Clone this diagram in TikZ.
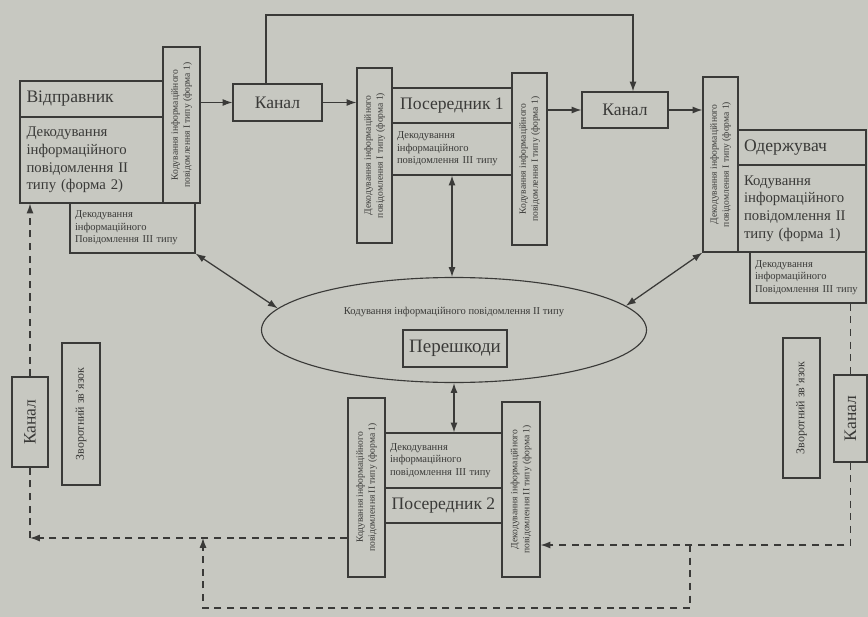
\documentclass[tikz,border=0pt]{standalone}
\usepackage{fontspec}
\setmainfont{Liberation Serif}
\usetikzlibrary{shapes.geometric, arrows.meta}
\newcommand{\upx}{0.025cm}
\definecolor{paper}{RGB}{199,200,193}
\definecolor{ink}{RGB}{58,58,56}
\tikzset{
    blk/.style={draw=ink, line width=0.8pt, inner sep=2pt, text=ink},
    sz/.style 2 args={minimum width=#1*\upx, minimum height=#2*\upx},
    tw/.style={text width=#1*\upx},
    ttl/.style={blk, font=\fontsize{12.5}{14}\selectfont},
    bodytxt/.style={blk, align=left, font=\fontsize{10.5}{12.5}\selectfont},
    smalltxt/.style={blk, align=left, font=\fontsize{7.5}{9}\selectfont},
    strip/.style={blk, rotate=90, align=center, font=\fontsize{6.8}{8.5}\selectfont},
    side/.style={blk, rotate=90},
    link/.style={draw=ink, line width=0.9pt, ->},
    dlink/.style={draw=ink, line width=0.9pt, <->},
    fbline/.style={draw=ink, line width=0.9pt, dash pattern=on 5pt off 4pt},
    fb/.style={fbline, ->}
}

\begin{document}
\begin{tikzpicture}[x=\upx, y=-\upx, >={Latex[length=7pt,width=5pt]}]
    \useasboundingbox[fill=paper] (0,0) rectangle (868,617);

    % sender
    \node[strip, sz={156}{37}] (sstrip) at (181.5,125) {Кодування інформаційного\\повідомлення I типу (форма 1)};
    \node[ttl, sz={143}{36}, tw=130, align=left] (sndr) at (91.5,99) {Відправник};
    \node[bodytxt, sz={143}{86}, tw=130] (sbody) at (91.5,160) {Декодування\\інформаційного\\повідомлення II\\типу (форма 2)};
    \node[smalltxt, sz={125}{50}, tw=115] (slow) at (132.5,228) {Декодування\\інформаційного\\Повідомлення III типу};

    % channels and first intermediary
    \node[ttl, sz={89}{37}] (ch1) at (277.5,102.5) {Канал};
    \node[strip, sz={175}{35}] (p1l) at (374.5,155.5) {Декодування інформаційного\\повідомлення I типу (форма 1)};
    \node[ttl, sz={120}{35}] (p1) at (452,105.5) {Посередник 1};
    \node[smalltxt, sz={120}{52}, tw=110] (p1b) at (452,149) {Декодування\\інформаційного\\повідомлення III типу};
    \node[strip, sz={172}{35}] (p1r) at (529.5,159) {Кодування інформаційного\\повідомлення I типу (форма 1)};
    \node[ttl, sz={86}{36}] (ch2) at (625,110) {Канал};

    % receiver
    \node[strip, sz={175}{35}] (rstrip) at (720.5,164.5) {Декодування інформаційного\\повідомлення I типу (форма 1)};
    \node[ttl, sz={128}{35}, tw=116, align=left] (rcv) at (802,147.5) {Одержувач};
    \node[bodytxt, sz={128}{87}, tw=116] (rbody) at (802,208.5) {Кодування\\інформаційного\\повідомлення II\\типу (форма 1)};
    \node[smalltxt, sz={116}{51}, tw=106] (rlow) at (808,277.5) {Декодування\\інформаційного\\Повідомлення III типу};

    % noise
    \node[draw=ink, line width=0.8pt, ellipse, sz={385}{105}] (noise) at (454,330) {};
    \node[text=ink, font=\fontsize{7.5}{9}\selectfont] (noisetxt) at (454,312) {Кодування інформаційного повідомлення II типу};
    \node[ttl, font=\fontsize{13.5}{15}\selectfont, sz={104}{37}] (prs) at (455,348.5) {Перешкоди};

    % second intermediary
    \node[strip, sz={179}{37}] (p2l) at (366.5,487.5) {Кодування інформаційного\\повідомлення II типу (форма 1)};
    \node[strip, sz={175}{38}] (p2r) at (521,489.5) {Декодування інформаційного\\повідомлення II типу (форма 1)};
    \node[smalltxt, sz={117}{55}, tw=107] (p2b) at (443.5,460.5) {Декодування\\інформаційного\\повідомлення III типу};
    \node[ttl, sz={117}{35}] (p2) at (443.5,505.5) {Посередник 2};

    % feedback
    \node[side, font=\fontsize{12.5}{14}\selectfont, sz={90}{36}] (lch) at (30,422) {Канал};
    \node[side, font=\fontsize{8.5}{10}\selectfont, sz={142}{38}] (lfb) at (81,414) {Зворотний зв’язок};
    \node[side, font=\fontsize{12.5}{14}\selectfont, sz={87}{33}] (rch) at (850.5,418.5) {Канал};
    \node[side, font=\fontsize{8.5}{10}\selectfont, sz={140}{37}] (rfb) at (801.5,408) {Зворотний зв’язок};

    \coordinate (loopa) at (266,15);
    \coordinate (loopb) at (633,15);
    \coordinate (lcorner) at (30,538);
    \coordinate (rcorner) at (852,545);
    \coordinate (bra) at (690,608);
    \coordinate (brb) at (203,608);

    \draw[link] (sstrip.south |- ch1.west) -- (ch1.west);
    \draw[link] (ch1.east) -- (ch1.east -| p1l.north);
    \draw[link] (loopa |- ch1.north) -- (loopa) -- (loopb) -- (loopb |- ch2.north);
    \draw[link] (p1r.south |- ch2.west) -- (ch2.west);
    \draw[link] (ch2.east) -- (ch2.east -| rstrip.north);

    \draw[dlink] (p1b.south) -- (p1b.south |- noise.north);
    \draw[dlink] (slow.south east) -- (noise.173);
    \draw[dlink] (rstrip.north west) -- (noise.8);
    \draw[dlink] (noise.south) -- (noise.south |- p2b.north);

    \draw[fb] (p2l.north |- lcorner) -- (lcorner);
    \draw[fbline] (lcorner) -- (lch.west);
    \draw[fb] (lch.east) -- (lch.east |- sbody.south);
    \draw[fbline] (rch.east |- rlow.south) -- (rch.east);
    \draw[fb] (rch.west) -- (rch.west |- rcorner) -- (p2r.south |- rcorner);
    \draw[fb] (bra |- rcorner) -- (bra) -- (brb) -- (brb |- lcorner);
\end{tikzpicture}
\end{document}
